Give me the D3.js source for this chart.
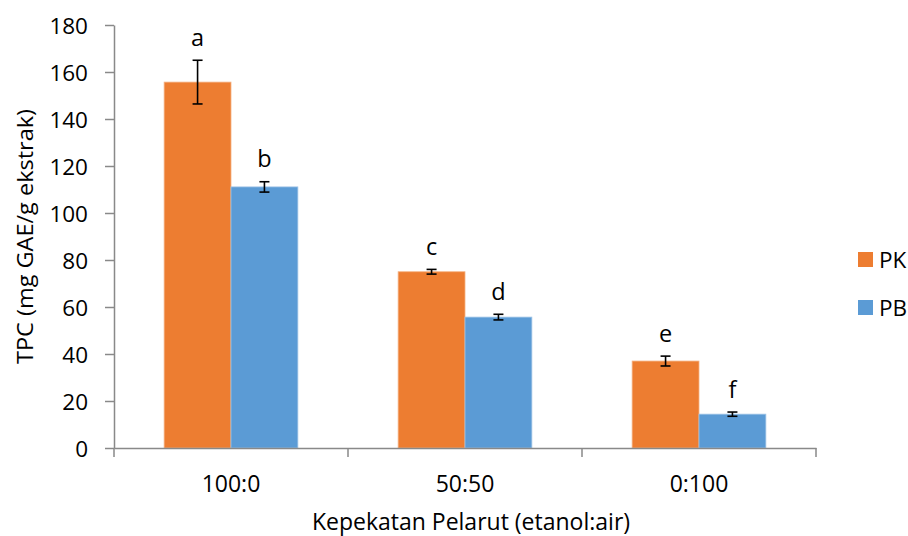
<!DOCTYPE html>
<html><head><meta charset="utf-8">
<script src="https://cdn.jsdelivr.net/npm/d3@7/dist/d3.min.js"></script>
<style>body{margin:0;background:#fff}svg{display:block}text{font-family:"Open Sans",sans-serif;fill:#000}</style>
</head><body><svg id="c" width="908" height="536"></svg>
<script>
const categories = ["100:0", "50:50", "0:100"];
const seriesNames = ["PK", "PB"];
const pkValues = [155.7, 75.0, 37.0];
const pbValues = [111.1, 55.7, 14.4];
const pkErrors = [9.3, 1.0, 2.1];
const pbErrors = [2.2, 1.2, 0.9];
const pkLetters = ["a", "c", "e"];
const pbLetters = ["b", "d", "f"];
const yTicks = [0, 20, 40, 60, 80, 100, 120, 140, 160, 180];
const colors = ["#ED7D31", "#5B9BD5"];

const svg = d3.select("#c");
const m = {l: 114, r: 816, t: 25, b: 448};
const x = d3.scaleBand().domain(categories).range([m.l, m.r]).paddingInner(0).paddingOuter(0);
const x1 = d3.scaleBand().domain(seriesNames).range([0, x.bandwidth()]).paddingInner(0).paddingOuter(0.75);
const y = d3.scaleLinear().domain([0, 180]).range([m.b, m.t]);

const data = categories.map((c, i) => ({c, vals: [
  {s: "PK", v: pkValues[i], e: pkErrors[i], l: pkLetters[i]},
  {s: "PB", v: pbValues[i], e: pbErrors[i], l: pbLetters[i]}]}));

// bars
const g = svg.append("g");
data.forEach(d => {
  d.vals.forEach((b, j) => {
    const bx = x(d.c) + x1(b.s);
    g.append("rect").attr("x", bx).attr("y", y(b.v)).attr("width", x1.bandwidth()).attr("height", y(0) - y(b.v))
      .attr("fill", colors[j]).attr("stroke", j === 0 ? "#F4B183" : "#9DC3E6").attr("stroke-width", 0.8);
  });
  d.vals.forEach((b, j) => {
    const bx = x(d.c) + x1(b.s);
    const cx = bx + x1.bandwidth() / 2;
    const eg = g.append("g").attr("stroke", "#000").attr("stroke-width", 1.6);
    eg.append("line").attr("x1", cx).attr("x2", cx).attr("y1", y(b.v + b.e)).attr("y2", y(b.v - b.e));
    eg.append("line").attr("x1", cx - 5).attr("x2", cx + 5).attr("y1", y(b.v + b.e)).attr("y2", y(b.v + b.e));
    eg.append("line").attr("x1", cx - 5).attr("x2", cx + 5).attr("y1", y(b.v - b.e)).attr("y2", y(b.v - b.e));
    g.append("text").attr("x", cx).attr("y", y(b.v + b.e) - 14.5).attr("text-anchor", "middle")
      .style("font-size", "23.5px").text(b.l);
  });
});

// y axis
const yAxis = d3.axisLeft(y).tickValues(yTicks).tickSize(9).tickPadding(17).tickSizeOuter(0);
const ya = svg.append("g").attr("transform", `translate(${m.l},0)`).call(yAxis);
ya.selectAll("text").style("font-size", "22.5px").attr("dy", "0.36em");
ya.selectAll("line,path").attr("stroke", "#898989").attr("stroke-width", 1.5);

// x axis
const xAxis = d3.axisBottom(x).tickSize(0).tickPadding(28);
const xa = svg.append("g").attr("transform", `translate(0,${m.b})`).call(xAxis);
xa.selectAll("text").style("font-size", "23px");
xa.select("path").attr("stroke", "#898989").attr("stroke-width", 1.5);
// category boundary ticks
const bounds = categories.map(c => x(c)).concat([x.range()[1]]);
xa.selectAll(".bt").data(bounds).enter().append("line").attr("class", "bt")
  .attr("x1", d => d).attr("x2", d => d).attr("y1", 0).attr("y2", 9)
  .attr("stroke", "#898989").attr("stroke-width", 1.5);

// titles
svg.append("text").attr("transform", `translate(33,${(m.t + m.b) / 2}) rotate(-90)`)
  .attr("text-anchor", "middle").style("font-size", "22.5px")
  .attr("textLength", 255).attr("lengthAdjust", "spacingAndGlyphs").text("TPC (mg GAE/g ekstrak)");
svg.append("text").attr("x", (m.l + m.r) / 2 + 6).attr("y", 530).attr("text-anchor", "middle")
  .style("font-size", "23px").text("Kepekatan Pelarut (etanol:air)");

// legend
seriesNames.forEach((s, i) => {
  const ly = 252 + i * 48;
  svg.append("rect").attr("x", 858).attr("y", ly).attr("width", 15).attr("height", 15).attr("fill", colors[i]);
  svg.append("text").attr("x", 879).attr("y", ly + 7.5).attr("dy", "0.36em").style("font-size", "22.5px").text(s);
});
</script></body></html>
